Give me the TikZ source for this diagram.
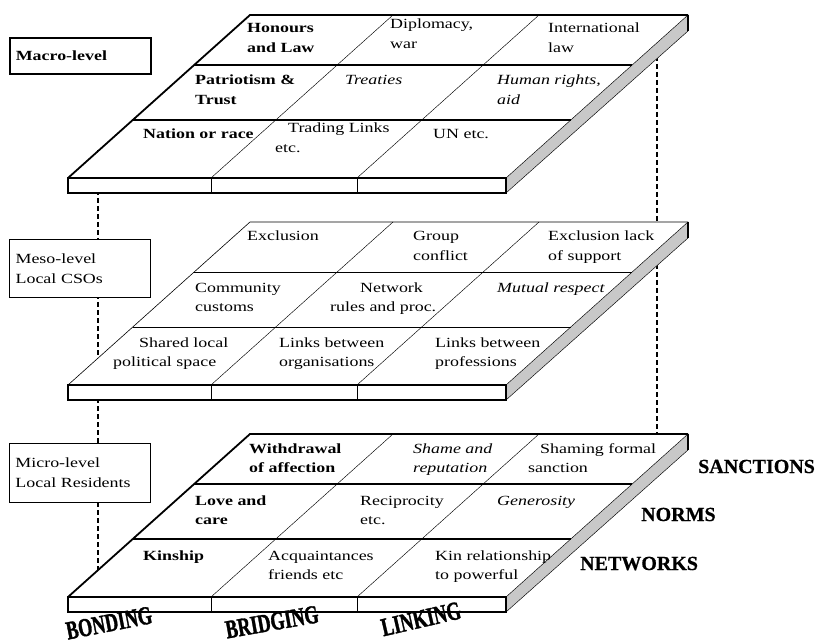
\documentclass[tikz,border=0pt]{standalone}
\usepackage{fontspec}
\setmainfont{Liberation Serif}[FakeStretch=1.28]
\newfontfamily\bigfont{Liberation Serif}[FakeBold=0.6]
\newfontfamily\artfont{Liberation Serif}[FakeStretch=0.7,FakeBold=1.2]
\definecolor{sidegray}{RGB}{200,200,200}
\newcommand\myslab[3]{%
 \fill[white] (68,#1+163) -- (506,#1+163) -- (688,#1) -- (250,#1) -- cycle;
 \fill[sidegray] (506,#1+163) -- (688,#1) -- (688,#1+16) -- (506,#1+178) -- cycle;
 \fill[white] (68,#1+163) rectangle (506,#1+178);
 \draw[divider] (211,#1+163) -- (393,#1) (357,#1+163) -- (539,#1)
   (506,#1+163) -- (688,#1) (506,#1+178) -- (688,#1+16);
 \draw[line width=#3] (194.2,#1+50) -- (632.2,#1+50) (132.8,#1+105) -- (570.8,#1+105);
 \draw[line width=#2] (68,#1+163) -- (250,#1) -- (688,#1);
 \draw[line width=1.6pt] (68,#1+163) rectangle (506,#1+178);
 \draw[line width=0.9pt] (211,#1+163) -- (211,#1+178) (357,#1+163) -- (357,#1+178);
 \draw[line width=1.2pt] (688,#1) -- (688,#1+16);
}
\begin{document}
\begin{tikzpicture}[x=1pt,y=-1pt,
  cell/.style={anchor=base west, inner sep=0pt, align=left, font=\fontsize{14}{19.5}\selectfont},
  bcell/.style={cell, font=\fontsize{14}{19.5}\selectfont\bfseries},
  icell/.style={cell, font=\fontsize{14}{19.5}\selectfont\itshape},
  lvl/.style={draw, fill=white, anchor=north west, minimum width=141pt, text width=129pt,
    inner xsep=6pt, inner ysep=0pt, align=left, font=\fontsize{14}{19.5}\selectfont},
  dim/.style={anchor=base west, inner sep=0pt, font=\bigfont\fontsize{20}{24}\selectfont\bfseries},
  art/.style={inner sep=0pt, font=\artfont\fontsize{26}{30}\selectfont\bfseries},
  divider/.style={line width=0.45pt},
  guide/.style={line width=1.5pt, dash pattern=on 5pt off 3pt}
]
\useasboundingbox (0,0) rectangle (827,644);

% dashed guide lines (behind the slabs)
\coordinate (gl1) at (98,150);
\coordinate (gl2) at (98,582);
\coordinate (gr1) at (657,40);
\coordinate (gr2) at (657,440);
\draw[guide] (gl1) -- (gl2);
\draw[guide] (gr1) -- (gr2);

% slabs
\myslab{15}{1.8pt}{1.1pt}
\myslab{222}{0.6pt}{0.8pt}
\myslab{434}{1.8pt}{1.1pt}

% level boxes
\node[lvl, line width=1.6pt, minimum height=36pt] (macro) at (9,37) {\bfseries Macro-level};
\node[lvl, line width=1.2pt, minimum height=58pt] (meso) at (9,239) {Meso-level\\Local CSOs};
\node[lvl, line width=0.9pt, minimum height=59pt] (micro) at (9,443) {Micro-level\\Local Residents};

% macro slab texts (two-line nodes are placed by their last baseline)
\node[bcell] (t11) at (247,52.5) {Honours\\and Law};
\node[cell]  (t12) at (390,48.5) {Diplomacy,\\war};
\node[cell]  (t13) at (548,52.5) {International\\law};
\node[bcell] (t21) at (195,104.5) {Patriotism \&\\Trust};
\node[icell] (t22) at (345,85) {Treaties};
\node[icell] (t23) at (497,104.5) {Human rights,\\aid};
\node[bcell] (t31) at (143,139) {Nation or race};
\node[cell]  (t32) at (275,152.5) {\hspace*{13pt}Trading Links\\etc.};
\node[cell]  (t33) at (433,139) {UN etc.};

% meso slab texts
\node[cell]  (m11) at (247,241) {Exclusion};
\node[cell]  (m12) at (413,260.5) {Group\\conflict};
\node[cell]  (m13) at (548,260.5) {Exclusion lack\\of support};
\node[cell]  (m21) at (195,311.5) {Community\\customs};
\node[cell]  (m22) at (330,311.5) {\hspace*{30pt}Network\\rules and proc.};
\node[icell] (m23) at (497,292) {Mutual respect};
\node[cell]  (m31) at (113,366.5) {\hspace*{26pt}Shared local\\political space};
\node[cell]  (m32) at (279,366.5) {Links between\\organisations};
\node[cell]  (m33) at (435,366.5) {Links between\\professions};

% micro slab texts
\node[bcell] (b11) at (249,472.5) {Withdrawal\\of affection};
\node[icell] (b12) at (413,472.5) {Shame and\\reputation};
\node[cell]  (b13) at (528,472.5) {\hspace*{12pt}Shaming formal\\sanction};
\node[bcell] (b21) at (195,524.5) {Love and\\care};
\node[cell]  (b22) at (360,524.5) {Reciprocity\\etc.};
\node[icell] (b23) at (497,505) {Generosity};
\node[bcell] (b31) at (143,560) {Kinship};
\node[cell]  (b32) at (268,579.5) {Acquaintances\\friends etc};
\node[cell]  (b33) at (435,579.5) {Kin relationship\\to powerful};

% dimension labels
\node[dim] (sanc) at (698,473) {SANCTIONS};
\node[dim] (norm) at (641,521) {NORMS};
\node[dim] (netw) at (580,570) {NETWORKS};

% capital labels
\node[art, rotate=11] (bond) at (109,623) {BONDING};
\node[art, rotate=10] (brid) at (272,622) {BRIDGING};
\node[art, rotate=13] (link) at (421,619) {LINKING};
\end{tikzpicture}
\end{document}
